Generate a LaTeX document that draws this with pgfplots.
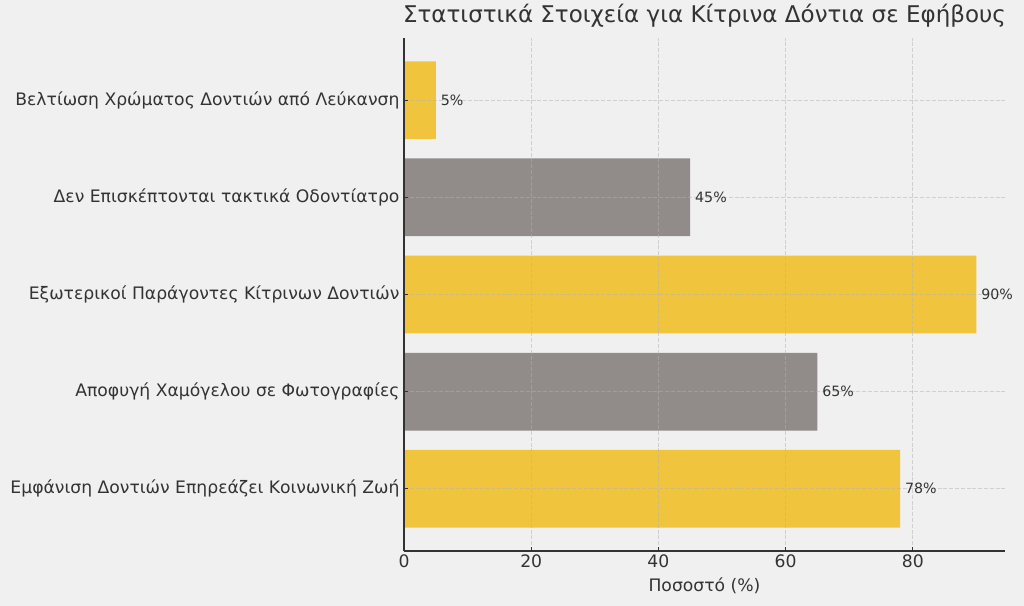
\documentclass[border=0pt]{standalone}
\usepackage{fontspec}
\setmainfont{DejaVu Sans}
\usepackage{pgfplots}
\pgfplotsset{compat=1.18}
\definecolor{bg}{HTML}{F0F0F0}
\definecolor{ybarc}{HTML}{F0C53D}
\definecolor{gbarc}{HTML}{918B89}
\definecolor{txt}{HTML}{333333}
\begin{document}
\begin{tikzpicture}
\fill[bg] (0,0) rectangle (1024bp,606bp);
\begin{axis}[
 at={(404bp,55bp)}, anchor=south west, scale only axis, width=601bp, height=513bp,
 xmin=0, xmax=94.5, ymin=-0.64, ymax=4.64,
 xbar, bar width=0.8,
 xtick={0,20,40,60,80}, ytick={0,1,2,3,4},
 yticklabels={Εμφάνιση Δοντιών Επηρεάζει Κοινωνική Ζωή, Αποφυγή Χαμόγελου σε Φωτογραφίες, Εξωτερικοί Παράγοντες Κίτρινων Δοντιών, Δεν Επισκέπτονται τακτικά Οδοντίατρο, Βελτίωση Χρώματος Δοντιών από Λεύκανση},
 axis x line*=bottom, axis y line*=left,
 axis line style={-, color=txt, line width=1.3bp},
 axis on top,
 tick align=inside, major tick length=4bp, tick style={color=txt, line width=1.1bp},
 xmajorgrids, ymajorgrids, major grid style={dash pattern=on 4bp off 1.8bp, color=black!30, opacity=0.5, line width=1.1bp},
 ticklabel style={font=\fontsize{17.2bp}{20bp}\selectfont, text=txt},
 yticklabel style={xshift=-1bp},
 /pgf/number format/assume math mode=true,
 xlabel={Ποσοστό (\%)},
 xlabel style={at={(axis description cs:0.5,0)}, anchor=base, yshift=-40bp, font=\fontsize{17.2bp}{20bp}\selectfont, text=txt},
 title={Στατιστικά Στοιχεία για Κίτρινα Δόντια σε Εφήβους},
 title style={at={(axis description cs:0.5,1)}, anchor=base, yshift=10bp, font=\fontsize{23bp}{27bp}\selectfont, text=txt},
 point meta=explicit symbolic,
 nodes near coords={\pointmeta},
 nodes near coords style={anchor=west, xshift=1.5bp, font=\fontsize{14.2bp}{16bp}\selectfont, text=txt},
]
\def\pointmeta{\pgfplotspointmeta\%}
\addplot[fill=ybarc, draw=none, bar shift=0pt] coordinates {(78,0) [78] (90,2) [90] (5,4) [5]};
\addplot[fill=gbarc, draw=none, bar shift=0pt] coordinates {(65,1) [65] (45,3) [45]};
\end{axis}
\end{tikzpicture}
\end{document}
